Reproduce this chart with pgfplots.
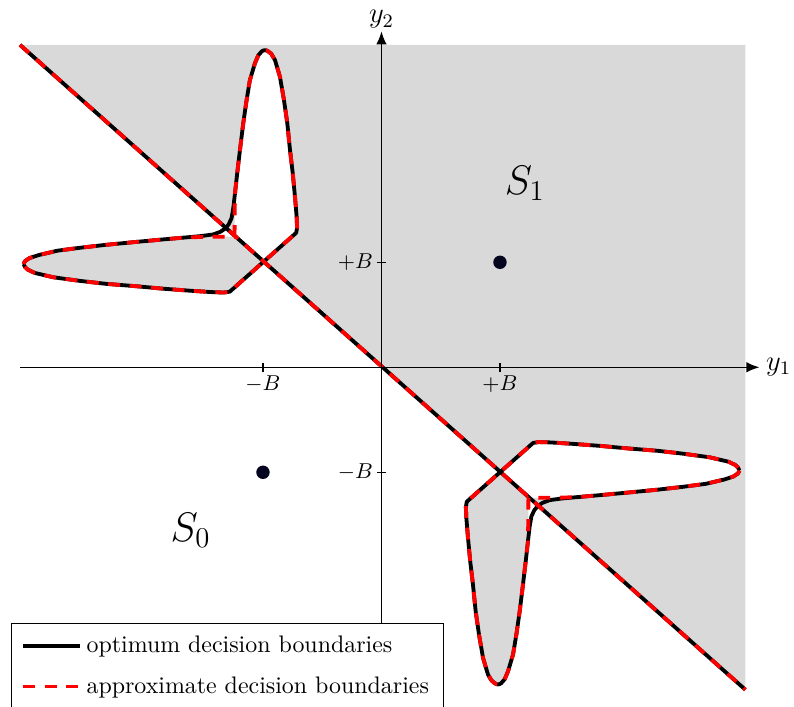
\documentclass[border=0pt]{standalone}
\usepackage{pgfplots}
\pgfplotsset{compat=1.18}
\usetikzlibrary{arrows.meta}

\definecolor{regiongray}{gray}{0.85}
\definecolor{dotnavy}{rgb}{0.02,0.02,0.12}

% Upper-left lobe of the optimum boundary (the lower-right lobe is its point reflection)
\pgfplotstableread{
x y
-3.020 0.983
-3.008 1.011
-2.970 1.040
-2.895 1.068
-2.736 1.110
-2.546 1.138
-2.327 1.166
-2.070 1.194
-1.850 1.217
-1.657 1.236
-1.520 1.250
-1.420 1.265
-1.360 1.290
-1.320 1.320
-1.290 1.360
-1.265 1.420
-1.250 1.520
-1.236 1.657
-1.217 1.850
-1.194 2.070
-1.166 2.327
-1.138 2.546
-1.110 2.736
-1.068 2.895
-1.040 2.970
-1.011 3.008
-0.997 3.017
-0.983 3.020
-0.969 3.017
-0.955 3.008
-0.930 2.985
-0.899 2.927
-0.857 2.768
-0.823 2.546
-0.795 2.327
-0.772 2.070
-0.749 1.850
-0.730 1.625
-0.716 1.434
-0.712 1.330
-0.720 1.280
-1.280 0.720
-1.330 0.712
-1.434 0.716
-1.625 0.730
-1.850 0.749
-2.070 0.772
-2.327 0.795
-2.546 0.823
-2.768 0.857
-2.927 0.899
-2.985 0.930
-3.008 0.955
-3.020 0.983
}\optUL

% Lower-right lobe of the optimum boundary
\pgfplotstableread{
x y
3.020 -0.983
3.008 -1.011
2.970 -1.040
2.895 -1.068
2.736 -1.110
2.546 -1.138
2.327 -1.166
2.070 -1.194
1.850 -1.217
1.657 -1.236
1.520 -1.250
1.420 -1.265
1.360 -1.290
1.320 -1.320
1.290 -1.360
1.265 -1.420
1.250 -1.520
1.236 -1.657
1.217 -1.850
1.194 -2.070
1.166 -2.327
1.138 -2.546
1.110 -2.736
1.068 -2.895
1.040 -2.970
1.011 -3.008
0.997 -3.017
0.983 -3.020
0.969 -3.017
0.955 -3.008
0.930 -2.985
0.899 -2.927
0.857 -2.768
0.823 -2.546
0.795 -2.327
0.772 -2.070
0.749 -1.850
0.730 -1.625
0.716 -1.434
0.712 -1.330
0.720 -1.280
1.280 -0.720
1.330 -0.712
1.434 -0.716
1.625 -0.730
1.850 -0.749
2.070 -0.772
2.327 -0.795
2.546 -0.823
2.768 -0.857
2.927 -0.899
2.985 -0.930
3.008 -0.955
3.020 -0.983
}\optLR

% Approximate boundary: same lobes with a square inner corner
\pgfplotstableread{
x y
-3.020 0.983
-3.008 1.011
-2.970 1.040
-2.895 1.068
-2.736 1.110
-2.546 1.138
-2.327 1.166
-2.070 1.194
-1.850 1.217
-1.657 1.236
-1.500 1.242
-1.240 1.244
-1.238 1.500
-1.236 1.657
-1.217 1.850
-1.194 2.070
-1.166 2.327
-1.138 2.546
-1.110 2.736
-1.068 2.895
-1.040 2.970
-1.011 3.008
-0.997 3.017
-0.983 3.020
-0.969 3.017
-0.955 3.008
-0.930 2.985
-0.899 2.927
-0.857 2.768
-0.823 2.546
-0.795 2.327
-0.772 2.070
-0.749 1.850
-0.730 1.625
-0.716 1.434
-0.712 1.330
-0.720 1.280
-1.280 0.720
-1.330 0.712
-1.434 0.716
-1.625 0.730
-1.850 0.749
-2.070 0.772
-2.327 0.795
-2.546 0.823
-2.768 0.857
-2.927 0.899
-2.985 0.930
-3.008 0.955
-3.020 0.983
}\apxUL

\pgfplotstableread{
x y
3.020 -0.983
3.008 -1.011
2.970 -1.040
2.895 -1.068
2.736 -1.110
2.546 -1.138
2.327 -1.166
2.070 -1.194
1.850 -1.217
1.657 -1.236
1.500 -1.242
1.240 -1.244
1.238 -1.500
1.236 -1.657
1.217 -1.850
1.194 -2.070
1.166 -2.327
1.138 -2.546
1.110 -2.736
1.068 -2.895
1.040 -2.970
1.011 -3.008
0.997 -3.017
0.983 -3.020
0.969 -3.017
0.955 -3.008
0.930 -2.985
0.899 -2.927
0.857 -2.768
0.823 -2.546
0.795 -2.327
0.772 -2.070
0.749 -1.850
0.730 -1.625
0.716 -1.434
0.712 -1.330
0.720 -1.280
1.280 -0.720
1.330 -0.712
1.434 -0.716
1.625 -0.730
1.850 -0.749
2.070 -0.772
2.327 -0.795
2.546 -0.823
2.768 -0.857
2.927 -0.899
2.985 -0.930
3.008 -0.955
3.020 -0.983
}\apxLR

\begin{document}
\begin{tikzpicture}
\begin{axis}[
  x=49.58pt, y=43.93pt,
  xmin=-3.05, xmax=3.19, ymin=-3.07, ymax=3.20,
  axis lines=middle,
  axis on top,
  axis line style={line width=0.65pt, -{Latex[length=5.5pt,width=4.4pt]}},
  clip=false,
  xtick={-1,1}, ytick={-1,1},
  xticklabels={$-B$,$+B$}, yticklabels={$-B$,$+B$},
  tick align=center, major tick length=3.8pt,
  tick style={line width=0.65pt, black},
  ticklabel style={font=\small, inner sep=1.5pt},
  xlabel={$y_1$}, ylabel={$y_2$},
  every axis x label/.style={at={(current axis.right of origin)}, anchor=west, font=\large, inner sep=2.5pt},
  every axis y label/.style={at={(current axis.above origin)}, anchor=south, font=\large, inner sep=1pt},
  unbounded coords=jump,
  legend cell align=left,
  legend image code/.code={\draw[#1] (0cm,0cm) -- (0.83cm,0cm);},
  legend style={at={(axis cs:-3.122,-2.438)}, anchor=north west,
    draw=black, line width=0.4pt, fill=white, font=\normalsize,
    row sep=4.6pt, inner xsep=4pt, inner ysep=3pt},
]

% decision region S1: half-plane above the diagonal, flipped inside both lobes
\addplot[fill=regiongray, draw=none, even odd rule, forget plot] coordinates {
  (-3.05,3.07) (3.07,3.07) (3.07,-3.07) (-3.05,3.07)
  (nan,nan)
  (-3.020,0.983) (-3.008,1.011) (-2.970,1.040) (-2.895,1.068) (-2.736,1.110)
  (-2.546,1.138) (-2.327,1.166) (-2.070,1.194) (-1.850,1.217) (-1.657,1.236)
  (-1.500,1.242) (-1.240,1.244) (-1.238,1.500) (-1.236,1.657) (-1.217,1.850)
  (-1.194,2.070) (-1.166,2.327) (-1.138,2.546) (-1.110,2.736) (-1.068,2.895)
  (-1.040,2.970) (-1.011,3.008) (-0.983,3.020) (-0.955,3.008) (-0.930,2.985)
  (-0.899,2.927) (-0.857,2.768) (-0.823,2.546) (-0.795,2.327) (-0.772,2.070)
  (-0.749,1.850) (-0.730,1.625) (-0.716,1.434) (-0.712,1.330) (-0.720,1.280)
  (-1.280,0.720) (-1.330,0.712) (-1.434,0.716) (-1.625,0.730) (-1.850,0.749)
  (-2.070,0.772) (-2.327,0.795) (-2.546,0.823) (-2.768,0.857) (-2.927,0.899)
  (-2.985,0.930) (-3.008,0.955) (-3.020,0.983)
  (nan,nan)
  (3.020,-0.983) (3.008,-1.011) (2.970,-1.040) (2.895,-1.068) (2.736,-1.110)
  (2.546,-1.138) (2.327,-1.166) (2.070,-1.194) (1.850,-1.217) (1.657,-1.236)
  (1.500,-1.242) (1.240,-1.244) (1.238,-1.500) (1.236,-1.657) (1.217,-1.850)
  (1.194,-2.070) (1.166,-2.327) (1.138,-2.546) (1.110,-2.736) (1.068,-2.895)
  (1.040,-2.970) (1.011,-3.008) (0.983,-3.020) (0.955,-3.008) (0.930,-2.985)
  (0.899,-2.927) (0.857,-2.768) (0.823,-2.546) (0.795,-2.327) (0.772,-2.070)
  (0.749,-1.850) (0.730,-1.625) (0.716,-1.434) (0.712,-1.330) (0.720,-1.280)
  (1.280,-0.720) (1.330,-0.712) (1.434,-0.716) (1.625,-0.730) (1.850,-0.749)
  (2.070,-0.772) (2.327,-0.795) (2.546,-0.823) (2.768,-0.857) (2.927,-0.899)
  (2.985,-0.930) (3.008,-0.955) (3.020,-0.983)
};

% optimum decision boundaries
\addplot[black, line width=1.6pt, line join=round] coordinates {(-3.05,3.07) (3.07,-3.07)};
\addlegendentry{optimum decision boundaries}
\addplot[black, line width=1.6pt, line join=round, forget plot] table {\optUL};
\addplot[black, line width=1.6pt, line join=round, forget plot] table {\optLR};

% approximate decision boundaries
\addplot[red, line width=1.6pt, dash pattern=on 5pt off 4pt] coordinates {(-3.05,3.07) (3.07,-3.07)};
\addlegendentry{approximate decision boundaries}
\addplot[red, line width=1.6pt, dash pattern=on 5pt off 4pt, forget plot] table {\apxUL};
\addplot[red, line width=1.6pt, dash pattern=on 5pt off 4pt, forget plot] table {\apxLR};

% signal points
\addplot[only marks, mark=*, mark size=2.6pt, color=dotnavy, forget plot] coordinates {(1,1) (-1,-1)};

\node[font=\LARGE] at (axis cs:1.21,1.75) {$S_1$};
\node[font=\LARGE] at (axis cs:-1.61,-1.55) {$S_0$};

\coordinate (bbsw) at (axis cs:-3.219,-3.226);
\coordinate (bbne) at (axis cs:3.481,3.498);
\end{axis}
\pgfresetboundingbox
\path[use as bounding box] (bbsw) rectangle (bbne);
\end{tikzpicture}
\end{document}
